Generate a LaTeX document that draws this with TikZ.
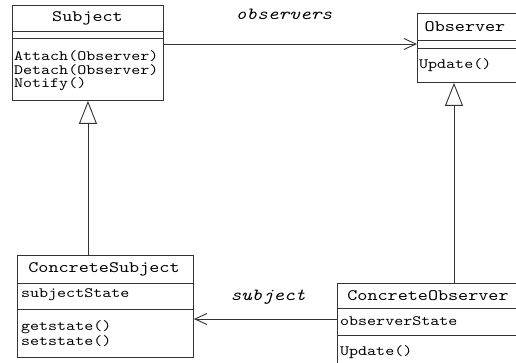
\documentclass[tikz,border=0pt]{standalone}
\usepackage{fontspec}
\newfontfamily\umlfont[FakeStretch=1.2]{lmmono10-regular.otf}
\newfontfamily\umlitfont[FakeStretch=1.2]{lmmono10-italic.otf}
\usetikzlibrary{arrows.meta}
\begin{document}
\begin{tikzpicture}[x=1pt,y=-1pt,
  classbox/.style={draw=black!80, line width=0.9pt, anchor=north west, inner sep=0pt},
  title/.style={font=\umlfont\fontsize{16}{16}\selectfont, inner sep=0pt},
  member/.style={font=\umlfont\fontsize{14.3}{14.3}\selectfont, anchor=west, inner sep=0pt},
  rolelabel/.style={font=\umlitfont\fontsize{17}{17}\selectfont, inner sep=0pt},
  assoc/.style={draw=black!80, line width=0.9pt, -{Straight Barb[length=12pt,width=11pt]}},
  inherit/.style={draw=black!80, line width=0.9pt, -{Triangle[open,fill=white,length=23pt,width=18pt]}}]

\useasboundingbox (0,0) rectangle (516,363);
\clip (0,0) rectangle (516,363);

% Draw the class boxes
\node[classbox, minimum width=151pt, minimum height=95pt] (subject) at (12,5) {};
\node[classbox, minimum width=110pt, minimum height=69pt] (observer) at (417,13) {};
\node[classbox, minimum width=176pt, minimum height=102pt] (csubject) at (17,255) {};
\node[classbox, minimum width=190pt, minimum height=90pt] (cobserver) at (337,283) {};

% Draw the separators
\draw[black!80, line width=0.9pt] ([yshift=-26pt]subject.north west) -- ([yshift=-26pt]subject.north east);
\draw[black!80, line width=0.9pt] ([yshift=-33pt]subject.north west) -- ([yshift=-33pt]subject.north east);
\draw[black!80, line width=0.9pt] ([yshift=-27pt]observer.north west) -- ([yshift=-27pt]observer.north east);
\draw[black!80, line width=0.9pt] ([yshift=-35pt]observer.north west) -- ([yshift=-35pt]observer.north east);
\draw[black!80, line width=0.9pt] ([yshift=-28pt]csubject.north west) -- ([yshift=-28pt]csubject.north east);
\draw[black!80, line width=0.9pt] ([yshift=-54pt]csubject.north west) -- ([yshift=-54pt]csubject.north east);
\draw[black!80, line width=0.9pt] ([yshift=-25pt]cobserver.north west) -- ([yshift=-25pt]cobserver.north east);
\draw[black!80, line width=0.9pt] ([yshift=-52pt]cobserver.north west) -- ([yshift=-52pt]cobserver.north east);

% Draw the texts
\node[title] (subjectname) at (87.5,18) {Subject};
\node[member] (attach) at (14,56) {Attach(Observer)};
\node[member] (detach) at (14,70) {Detach(Observer)};
\node[member] (notify) at (14,84) {Notify()};

\node[title] (observername) at (465,27) {Observer};
\node[member] (update) at (419,65) {Update()};

\node[title] (csubjectname) at (104,269) {ConcreteSubject};
\node[member] (subjectstate) at (21,295) {subjectState};
\node[member] (getstate) at (21,327) {getstate()};
\node[member] (setstate) at (21,341) {setstate()};

\node[title] (cobservername) at (428,296) {ConcreteObserver};
\node[member] (observerstate) at (340,321) {observerState};
\node[member] (cupdate) at (340,352) {Update()};

% Draw the connectors
\coordinate (observersline) at (0,44);
\coordinate (subjectline) at (0,319);
\coordinate (observeraxis) at (454,0);

\draw[assoc] (subject.east |- observersline) -- (observer.west |- observersline);
\node[rolelabel] (observerslabel) at (284,14) {observers};

\draw[assoc] (cobserver.west |- subjectline) -- (csubject.east |- subjectline);
\node[rolelabel] (subjectlabel) at (268,297) {subject};

\draw[inherit] (csubject.north -| subject.south) -- (subject.south);
\draw[inherit] (cobserver.north -| observeraxis) -- (observer.south -| observeraxis);

\end{tikzpicture}
\end{document}
